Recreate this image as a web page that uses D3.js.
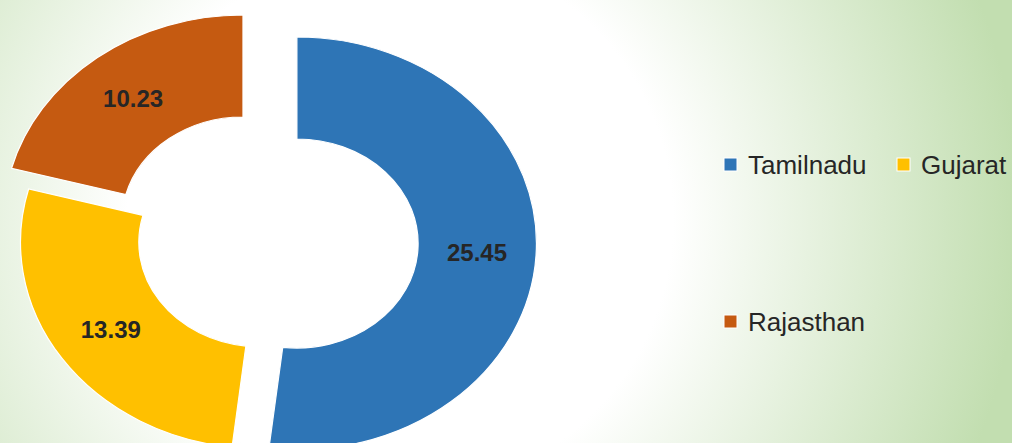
<!DOCTYPE html>
<html>
<head>
<meta charset="utf-8">
<script src="https://cdnjs.cloudflare.com/ajax/libs/d3/7.8.5/d3.min.js"></script>
<style>
  html, body { margin: 0; padding: 0; }
  body { width: 1012px; height: 443px; overflow: hidden; }
  #chart text { font-family: "Liberation Sans", Arial, sans-serif; }
</style>
</head>
<body>
<div id="chart"></div>
<script>
// chart data
var states = ["Tamilnadu", "Gujarat", "Rajasthan"];
var values = [25.45, 13.39, 10.23];
var labels = ["25.45", "13.39", "10.23"];
var colors = ["#2E75B6", "#FFC000", "#C55A11"];

// layout (pixels)
var width = 1012, height = 443,
    cx = 261, cy = 241.7,      // donut centre before exploding
    outerR = 206.5, innerR = 104.5,
    sx = 1.16,                 // chart was stretched sideways
    explode = [31, 1, 25.5];   // how far each slice is pulled out

var svg = d3.select("#chart").append("svg")
    .attr("width", width)
    .attr("height", height);

// background: white in the middle going to light green at the edges
var grad = svg.append("defs").append("radialGradient")
    .attr("id", "bg")
    .attr("gradientUnits", "userSpaceOnUse")
    .attr("cx", 400).attr("cy", 220).attr("r", 620);
grad.append("stop").attr("offset", 0).attr("stop-color", "#ffffff");
grad.append("stop").attr("offset", 0.44).attr("stop-color", "#ffffff");
grad.append("stop").attr("offset", 1).attr("stop-color", "#c2deb0");

svg.append("rect")
    .attr("width", width).attr("height", height)
    .attr("fill", "url(#bg)");

var pie = d3.pie().sort(null).value(function(d) { return d; });
var arcs = pie(values);

var arc = d3.arc().innerRadius(innerR).outerRadius(outerR);

// offset of a slice along its middle angle
function shift(d, i) {
  var a = (d.startAngle + d.endAngle) / 2;
  return [cx + explode[i] * Math.sin(a) * sx, cy - explode[i] * Math.cos(a)];
}

svg.selectAll(".slice")
    .data(arcs)
    .enter().append("path")
    .attr("class", "slice")
    .attr("d", arc)
    .attr("transform", function(d, i) {
      var p = shift(d, i);
      return "translate(" + p[0] + "," + p[1] + ") scale(" + sx + ",1)";
    })
    .attr("fill", function(d, i) { return colors[i]; })
    .attr("stroke", "#ffffff")
    .attr("stroke-width", 1.2)
    .attr("vector-effect", "non-scaling-stroke");

// value labels at slice centroids
svg.selectAll(".val")
    .data(arcs)
    .enter().append("text")
    .attr("class", "val")
    .attr("x", function(d, i) { return shift(d, i)[0] + arc.centroid(d)[0] * sx; })
    .attr("y", function(d, i) { return shift(d, i)[1] + arc.centroid(d)[1]; })
    .attr("text-anchor", "middle")
    .attr("dominant-baseline", "central")
    .attr("font-size", 24)
    .attr("font-weight", "bold")
    .attr("fill", "#262626")
    .text(function(d, i) { return labels[i]; });

// legend: two columns, wide row spacing
var legend = svg.selectAll(".legend")
    .data(states)
    .enter().append("g")
    .attr("class", "legend")
    .attr("transform", function(d, i) {
      return "translate(" + (724 + (i % 2) * 173) + "," + (158 + Math.floor(i / 2) * 157) + ")";
    });

legend.append("rect")
    .attr("width", 13).attr("height", 13)
    .attr("fill", function(d, i) { return colors[i]; })
    .attr("stroke", "#ffffff")
    .attr("stroke-width", 1);

legend.append("text")
    .attr("x", 24)
    .attr("y", 16)
    .attr("font-size", 26)
    .attr("fill", "#262626")
    .text(function(d) { return d; });
</script>
</body>
</html>
